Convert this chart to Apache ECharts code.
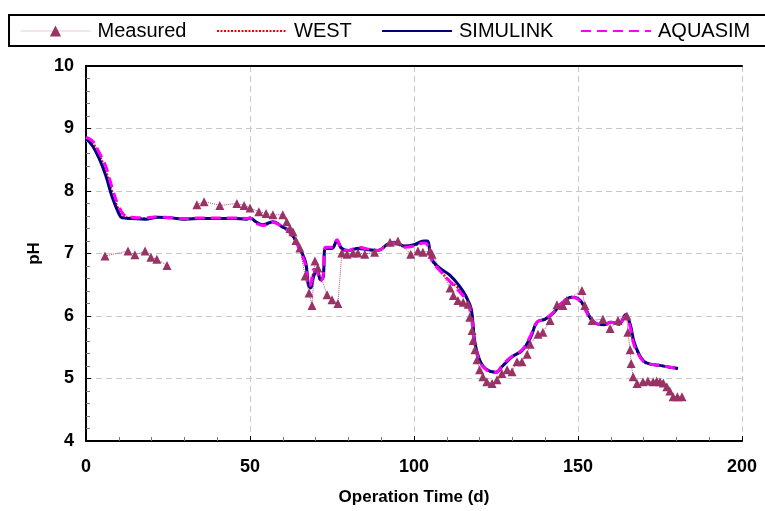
<!DOCTYPE html>
<html><head><meta charset="utf-8">
<script src="https://cdn.jsdelivr.net/npm/echarts@6/dist/echarts.min.js"></script>
<style>html,body{margin:0;padding:0;background:#fff}#c{width:765px;height:511px}</style>
</head><body><div id="c"></div>
<script>
const xTicks = [0, 50, 100, 150, 200];
const yTicks = [4, 5, 6, 7, 8, 9, 10];

const measured = [
 [5.8,6.96],[12.8,7.04],[14.9,6.98],[18,7.04],[19.8,6.94],[21.6,6.91],[24.7,6.81],[29,'-'],
 [33.8,7.78],[36,7.83],[40.8,7.77],[46,7.8],[48.2,7.77],[50,7.73],[52.7,7.67],[54.9,7.64],[57,7.62],
 [60,7.62],[61.2,7.51],[62.2,7.4],[63.1,7.35],[64,7.21],[65.2,7.09],[66.8,6.64],[68,6.37],[68.9,6.17],
 [69.8,6.88],[70.7,6.77],[73.5,6.34],[75,6.26],[76.8,6.2],[78,7.01],[79.6,6.99],[81.4,7.01],[82.9,7.01],
 [85,6.99],[88,7.02],[92.7,7.18],[95.1,7.2],[99,6.99],[101.2,7.04],[102.7,7.02],[104.9,7.04],[105.5,6.99],
 [111,6.45],[112,6.33],[113.4,6.25],[115,6.22],[116.5,6.19],[117,5.98],[117.7,5.77],[118,5.61],[118.6,5.46],
 [119.2,5.3],[120,5.14],[121,5.03],[122.2,4.95],[123.8,4.92],[125.3,4.98],[126.8,5.08],[128.4,5.14],[129.9,5.11],
 [131.4,5.27],[132.9,5.27],[134.5,5.39],[135.4,5.55],[137.8,5.71],[139.3,5.74],[141.5,5.93],[143.6,6.18],
 [145.4,6.17],[146.6,6.25],[151.2,6.41],[152.1,6.17],[154.3,5.93],[157.6,5.95],[159.8,5.8],[162.2,5.93],
 [164.9,6.0],[165.2,5.74],[165.9,5.46],[166.2,5.24],[166.8,5.03],[168,4.92],[169.8,4.95],[171.3,4.96],[172.9,4.95],
 [174,4.96],[175,4.95],[176,4.93],[177.1,4.87],[178,4.8],[179,4.71],[180.3,4.71],[181.7,4.71]
];

const simulink = [
 [0,8.84],[2,8.72],[4,8.52],[6,8.25],[8,7.9],[10,7.64],[11,7.57],[14,7.56],[18,7.55],[22,7.58],[26,7.57],
 [30,7.55],[35,7.56],[40,7.56],[45,7.56],[49,7.55],[50,7.57],[52,7.5],[54,7.46],[57,7.51],[60,7.42],[62,7.36],
 [64,7.2],[65.5,7.05],[67,6.85],[67.8,6.5],[68.5,6.45],[69.5,6.65],[70.5,6.72],[71.5,6.58],[72.3,6.62],[73,7.08],
 [75,7.08],[76.5,7.2],[78,7.08],[80,7.05],[83,7.08],[86,7.06],[89,7.05],[92,7.15],[94,7.18],[97,7.12],[100,7.14],
 [103,7.2],[104,7.2],[105.5,6.9],[108,6.76],[111,6.65],[114,6.47],[116,6.3],[117.5,6.1],[118.5,5.6],[120,5.3],
 [122,5.15],[125,5.1],[127,5.2],[130,5.35],[133,5.45],[135.5,5.65],[137.5,5.9],[140,5.95],[142.5,6.05],[145,6.2],
 [148,6.3],[150,6.28],[152,6.15],[154,5.95],[156,5.87],[158,5.86],[160,5.9],[162.5,5.87],[164.5,6.02],[166,5.85],
 [167,5.6],[168.5,5.4],[170,5.28],[172,5.23],[175,5.21],[178,5.18],[180.5,5.16]
];

const aquasim = [
 [0,8.86],[2,8.8],[4,8.62],[6,8.4],[8,8.05],[10,7.75],[12,7.6],[14,7.58],[18,7.57],[22,7.59],[26,7.57],
 [30,7.56],[35,7.57],[40,7.57],[45,7.57],[49,7.56],[50,7.57],[52,7.48],[54,7.45],[57,7.5],[60,7.42],[62,7.34],
 [64,7.18],[65.5,7.02],[67,6.8],[67.8,6.48],[68.5,6.5],[69.5,6.75],[70.5,6.7],[71.5,6.56],[72.3,6.65],[73,7.1],
 [75,7.1],[76.5,7.22],[78,7.06],[80,7.05],[83,7.1],[86,7.07],[89,7.05],[92,7.14],[94,7.17],[97,7.1],[100,7.12],
 [103,7.17],[104,7.15],[105.5,6.88],[108,6.72],[111,6.55],[114,6.38],[116,6.25],[117.5,6.0],[118.5,5.55],[120,5.28],
 [122,5.14],[125,5.1],[127,5.22],[130,5.36],[133,5.46],[135.5,5.68],[137.5,5.9],[140,5.95],[142.5,6.06],[145,6.2],
 [148,6.3],[150,6.27],[152,6.12],[154,5.93],[156,5.87],[158,5.86],[160,5.9],[162.5,5.88],[164.5,6.0],[166,5.8],
 [167,5.55],[168.5,5.38],[170,5.27],[172,5.23],[175,5.21],[178,5.18],[180.5,5.16]
];

const west = [
 [0,8.85],[2,8.77],[4,8.58],[6,8.33],[8,7.98],[10,7.7],[12,7.58],[14,7.57],[18,7.56],[22,7.58],[26,7.57],
 [30,7.55],[35,7.56],[40,7.56],[45,7.56],[49,7.55],[50,7.57],[52,7.49],[54,7.45],[57,7.5],[60,7.42],[62,7.35],
 [64,7.19],[65.5,7.03],[67,6.82],[67.8,6.49],[68.5,6.47],[69.5,6.7],[70.5,6.71],[71.5,6.57],[72.3,6.63],[73,7.09],
 [75,7.09],[76.5,7.21],[78,7.07],[80,7.05],[83,7.09],[86,7.06],[89,7.05],[92,7.14],[94,7.17],[97,7.11],[100,7.13],
 [103,7.18],[104,7.17],[105.5,6.89],[108,6.74],[110,6.6],[113,6.47],[115,6.38],[116,6.28],[117.5,6.05],[118.5,5.57],
 [120,5.29],[122,5.14],[125,5.1],[127,5.21],[130,5.35],[133,5.45],[135.5,5.66],[137.5,5.9],[140,5.95],[142.5,6.05],
 [145,6.2],[148,6.3],[150,6.27],[152,6.13],[154,5.94],[156,5.87],[158,5.86],[160,5.9],[162.5,5.87],[164.5,6.01],
 [166,5.82],[167,5.57],[168.5,5.39],[170,5.27],[172,5.23],[175,5.21],[178,5.18],[180.5,5.16]
];

const FONT = 'Liberation Sans, Arial, sans-serif';
const chart = echarts.init(document.getElementById('c'));
const legendBase = (name, left, extra) => Object.assign({
  data: [name], left: left, top: 21, itemWidth: 70, itemHeight: 14, itemGap: 0,
  textStyle: { fontFamily: FONT, fontSize: 20, color: '#000', padding: [0,0,0,2] },
  selectedMode: false, padding: 0
}, extra);
const frameAxis = { show: true, axisLine: { show: true, lineStyle: { color: '#000', width: 2 } },
  axisTick: { show: false }, axisLabel: { show: false }, splitLine: { show: false } };
chart.setOption({
  animation: false,
  backgroundColor: '#fff',
  graphic: [{
    type: 'rect', shape: { x: 9, y: 15, width: 770, height: 31 },
    style: { fill: 'none', stroke: '#000', lineWidth: 2 }, z: 0
  }],
  legend: [
    legendBase('Measured', 20, { itemStyle: { color: '#993366' }, lineStyle: { color: '#e6cbd8', type: 'solid', width: 1 } }),
    legendBase('WEST', 216, { itemStyle: { opacity: 0 } }),
    legendBase('SIMULINK', 381, { itemStyle: { opacity: 0 } }),
    legendBase('AQUASIM', 580, { itemStyle: { opacity: 0 } })
  ],
  grid: { left: 86, right: 23, top: 66, bottom: 66, show: true, borderWidth: 0, backgroundColor: '#fff' },
  xAxis: [{
    type: 'value', min: xTicks[0], max: xTicks[xTicks.length-1], interval: 50,
    name: 'Operation Time (d)', nameLocation: 'middle', nameGap: 48,
    nameTextStyle: { fontFamily: FONT, fontSize: 17, fontWeight: 'bold', color: '#000' },
    axisLine: { lineStyle: { color: '#000', width: 2 } },
    axisTick: { inside: true, length: 5, lineStyle: { color: '#000' } },
    minorTick: { show: true, splitNumber: 5, length: 4, lineStyle: { color: '#777' } },
    axisLabel: { fontFamily: FONT, fontSize: 18, fontWeight: 'bold', color: '#000', margin: 17 },
    splitLine: { show: true, lineStyle: { color: '#c8c8c8', type: [6,4], width: 1 } }
  }, Object.assign({ type: 'value', position: 'top', min: xTicks[0], max: xTicks[xTicks.length-1] }, frameAxis)],
  yAxis: [{
    type: 'value', min: yTicks[0], max: yTicks[yTicks.length-1], interval: 1,
    name: 'pH', nameLocation: 'middle', nameGap: 41, nameRotate: 90,
    nameTextStyle: { fontFamily: FONT, fontSize: 17, fontWeight: 'bold', color: '#000' },
    axisLine: { lineStyle: { color: '#000', width: 2 } },
    axisTick: { inside: true, length: 5, lineStyle: { color: '#000' } },
    minorTick: { show: true, splitNumber: 5, length: 4, lineStyle: { color: '#777' } },
    axisLabel: { fontFamily: FONT, fontSize: 18, fontWeight: 'bold', color: '#000', margin: 12 },
    splitLine: { show: true, lineStyle: { color: '#c8c8c8', type: [6,4], width: 1 } }
  }, Object.assign({ type: 'value', position: 'right', min: yTicks[0], max: yTicks[yTicks.length-1] }, frameAxis)],
  series: [
    { name: 'Measured', type: 'line', data: measured, z: 5, connectNulls: false,
      symbol: 'triangle', symbolSize: 9, showAllSymbol: true,
      itemStyle: { color: '#993366' },
      lineStyle: { color: '#a8507c', width: 1, type: 'dotted' } },
    { name: 'WEST', type: 'line', data: west, smooth: 0.4, symbol: 'none', z: 2,
      itemStyle: { color: '#ff0000' },
      lineStyle: { color: '#ff0000', width: 2.5, type: [2,1.5] } },
    { name: 'SIMULINK', type: 'line', data: simulink, smooth: 0.4, symbol: 'none', z: 3,
      itemStyle: { color: '#000080' },
      lineStyle: { color: '#000080', width: 3 } },
    { name: 'AQUASIM', type: 'line', data: aquasim, smooth: 0.4, symbol: 'none', z: 4,
      itemStyle: { color: '#ff00ff' },
      lineStyle: { color: '#ff00ff', width: 3, type: [10,6] } }
  ]
});
</script></body></html>
